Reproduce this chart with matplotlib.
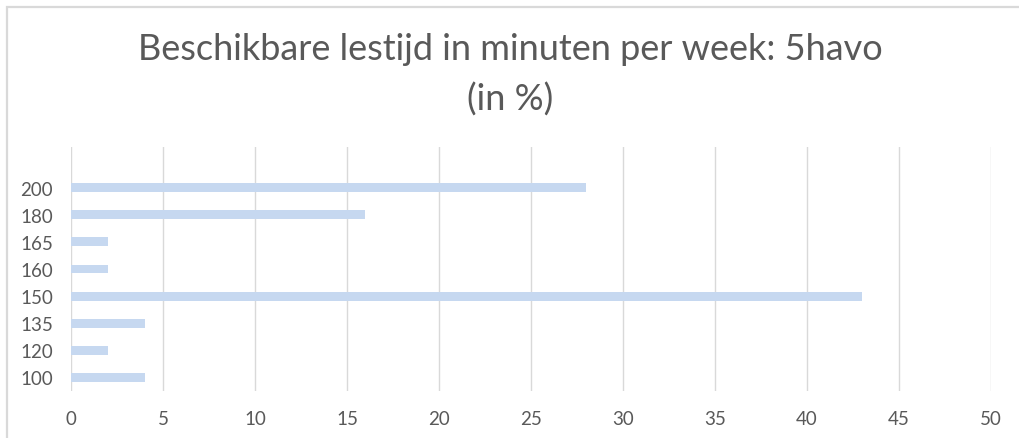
import matplotlib
matplotlib.use("Agg")
import matplotlib.pyplot as plt
from matplotlib.patches import Rectangle

categories = ["100", "120", "135", "150", "160", "165", "180", "200"]
percentages = [4, 2, 4, 43, 2, 2, 16, 28]
x_ticks = [0, 5, 10, 15, 20, 25, 30, 35, 40, 45, 50]

W, H = 1020, 439
fig = plt.figure(figsize=(W / 100, H / 100), dpi=100)
fig.patch.set_facecolor("white")

# outer chart frame (top and left edges visible)
fig.add_artist(Rectangle((7.5 / W, -0.1), 1.2, (H - 7.5) / H + 0.1,
                         transform=fig.transFigure, fill=False,
                         edgecolor="#d9d9d9", linewidth=1.6))

ax = fig.add_axes([71 / W, 1 - 392 / H, (991 - 71) / W, (392 - 148) / H])
pos = list(range(len(categories)))
ax.barh(pos, percentages, height=0.33, color="#c6d8f0", zorder=2)

ax.set_xlim(0, 50)
ax.set_ylim(-0.5, len(categories) + 0.5)
ax.set_xticks(x_ticks)
ax.set_yticks(pos)
ax.set_yticklabels(categories)
ax.grid(axis="x", color="#d9d9d9", linewidth=1.0, zorder=0)
for s in ax.spines.values():
    s.set_visible(False)
ax.tick_params(axis="both", length=0, labelsize=13.5, labelcolor="#595959")
ax.tick_params(axis="x", pad=14)
ax.tick_params(axis="y", pad=13)
for lbl in ax.get_xticklabels() + ax.get_yticklabels():
    lbl.set_family(["Lato", "DejaVu Sans"])

fig.text(0.5, 1 - 50 / H, "Beschikbare lestijd in minuten per week: 5havo",
         ha="center", va="center", fontsize=26, color="#595959",
         family=["Lato", "DejaVu Sans"])
fig.text(0.5, 1 - 100 / H, "(in %)", ha="center", va="center",
         fontsize=26, color="#595959", family=["Lato", "DejaVu Sans"])

fig.savefig("out.png", dpi=100, facecolor="white")
